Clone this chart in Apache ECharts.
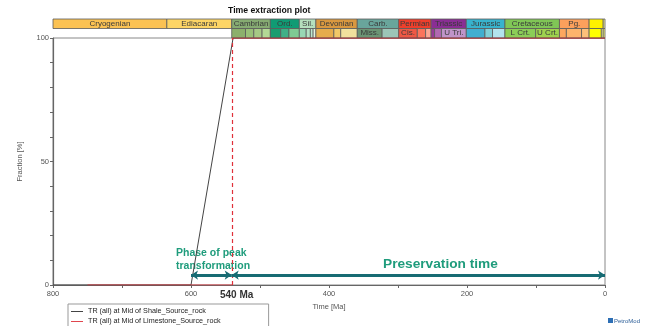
<!DOCTYPE html>
<html>
<head>
<meta charset="utf-8">
<script src="https://cdn.jsdelivr.net/npm/echarts@6/dist/echarts.min.js"></script>
<style>
  html, body { margin: 0; padding: 0; background: #fff; }
  #chart { width: 646px; height: 326px; }
</style>
</head>
<body>
<div id="chart"></div>
<script>
// geologic periods: [label, start Ma, end Ma, colour]
const periods = [
  ['Cryogenian', 800, 635, '#fbc253'],
  ['Ediacaran', 635, 541, '#fdd565'],
  ['Cambrian', 541, 485, '#86ab72'],
  ['Ord.', 485, 443, '#0f9b74'],
  ['Sil.', 443, 419, '#b5e0bd'],
  ['Devonian', 419, 359, '#d99840'],
  ['Carb.', 359, 299, '#69a59b'],
  ['Permian', 299, 252, '#ef3f2c'],
  ['Triassic', 252, 201, '#8a2e94'],
  ['Jurassic', 201, 145, '#38b3cd'],
  ['Cretaceous', 145, 66, '#80c656'],
  ['Pg.', 66, 23, '#fca05c'],
  ['', 23, 2.6, '#fff200'],
  ['', 2.6, 0, '#f7f39a'],
];

// epochs (second row)
const epochs = [
  ['', 541, 521, '#8cb06c'], ['', 521, 509, '#99c078'], ['', 509, 497, '#a6c985'], ['', 497, 485, '#b3d895'],
  ['', 485, 470, '#1a9d6f'], ['', 470, 458, '#41b087'], ['', 458, 443, '#7fca93'],
  ['', 443, 433, '#99d7b3'], ['', 433, 427, '#b3e1c2'], ['', 427, 423, '#bfe6cf'], ['', 423, 419, '#e6f5e1'],
  ['', 419, 393, '#e5ac4d'], ['', 393, 383, '#f1c868'], ['', 383, 359, '#f1e19d'],
  ['Miss.', 359, 323, '#6c9474'], ['', 323, 299, '#9cc5b7'],
  ['Cis.', 299, 272, '#ef5845'], ['', 272, 260, '#fb745c'], ['', 260, 252, '#fba794'],
  ['', 252, 247, '#983999'], ['', 247, 237, '#b168b1'], ['U Tri.', 237, 201, '#c094c9'],
  ['', 201, 174, '#42aed0'], ['', 174, 163, '#80cfd8'], ['', 163, 145, '#b3e3ee'],
  ['L Crt.', 145, 100.5, '#8ccd57'], ['U Crt.', 100.5, 66, '#9fd24e'],
  ['', 66, 56, '#fda75f'], ['', 56, 34, '#fdb46c'], ['', 34, 23, '#fdc07a'],
  ['', 23, 5.3, '#ffff00'], ['', 5.3, 2.6, '#ffff99'], ['', 2.6, 0, '#f9f97f'],
];

// transformation ratio curves
const shaleAge = [800, 600, 539, 0];
const shaleTR = [0, 0, 100, 100];
const limeAge = [750, 540, 540, 540, 0];
const limeTR = [0, 0, null, 100, 100];

const peakLine = 540;
const peakPhase = [600, 541];
const preservation = [541, 0];
const arrowLevel = 4;

const xTicks = { min: 0, max: 800, step: 100, labelStep: 200 };
const yTicks = { min: 0, max: 100, step: 10, labelStep: 50 };

const labelColor = '#555';
const teal = '#176b73';
const green = '#1f9c7c';

const chart = echarts.init(document.getElementById('chart'));

function scaleRows() {
  const rows = [];
  periods.forEach((p) => rows.push([p[1], p[2], 0, p[0], p[3]]));
  epochs.forEach((p) => rows.push([p[1], p[2], 1, p[0], p[3]]));
  return rows;
}

function renderCell(params, api) {
  const a = api.coord([api.value(0), api.value(2)]);
  const b = api.coord([api.value(1), api.value(2) + 1]);
  return {
    type: 'rect',
    shape: { x: a[0], y: a[1], width: b[0] - a[0], height: b[1] - a[1] },
    style: { fill: api.value(4), stroke: '#5a5a5a', lineWidth: 0.8 },
    textContent: {
      style: { text: api.value(3), fontSize: 8, fill: '#3a3a3a', fontFamily: 'Liberation Sans' },
    },
    textConfig: { position: 'inside' },
  };
}

function zip(xs, ys) {
  return xs.map((x, i) => [x, ys[i]]);
}

const option = {
  animation: false,
  textStyle: { fontFamily: 'Liberation Sans' },
  title: {
    text: 'Time extraction plot',
    left: 223,
    top: 1,
    textStyle: { fontSize: 8.7, fontWeight: 'bold', color: '#111' },
  },
  legend: {
    orient: 'vertical',
    left: 68,
    top: 304,
    height: 40,
    icon: 'rect',
    itemWidth: 12,
    itemHeight: 1,
    itemGap: 1,
    padding: [3, 48, 8, 3],
    borderColor: '#999',
    borderWidth: 1,
    textStyle: { fontSize: 7.2, color: '#222', lineHeight: 9 },
    data: ['TR (all) at Mid of Shale_Source_rock', 'TR (all) at Mid of Limestone_Source_rock'],
  },
  grid: [
    { left: 53, right: 41, top: 38, bottom: 41, show: true, borderColor: '#888', borderWidth: 1 },
    { left: 53, right: 41, top: 19, height: 19 },
  ],
  xAxis: [
    {
      type: 'value',
      inverse: true,
      min: xTicks.min,
      max: xTicks.max,
      interval: xTicks.step,
      name: 'Time [Ma]',
      nameLocation: 'middle',
      nameGap: 15,
      nameTextStyle: { fontSize: 7.5, color: labelColor },
      axisLine: { onZero: false, lineStyle: { color: '#666', width: 1.2 } },
      axisTick: { length: 3, lineStyle: { color: '#666' } },
      axisLabel: {
        fontSize: 7.5,
        color: labelColor,
        margin: 5,
        formatter: (v) => (v % xTicks.labelStep === 0 ? String(v) : ''),
      },
      splitLine: { show: false },
    },
    { type: 'value', gridIndex: 1, inverse: true, min: xTicks.min, max: xTicks.max, show: false },
  ],
  yAxis: [
    {
      type: 'value',
      min: yTicks.min,
      max: yTicks.max,
      interval: yTicks.step,
      name: 'Fraction [%]',
      nameLocation: 'middle',
      nameGap: 29,
      nameTextStyle: { fontSize: 7.5, color: labelColor },
      axisLine: { show: true, onZero: false, lineStyle: { color: '#666', width: 1.2 } },
      axisTick: { show: true, length: 3, lineStyle: { color: '#666' } },
      axisLabel: {
        fontSize: 7.5,
        color: labelColor,
        margin: 4,
        formatter: (v) => (v % yTicks.labelStep === 0 ? String(v) : ''),
      },
      splitLine: { show: false },
    },
    { type: 'value', gridIndex: 1, inverse: true, min: 0, max: 2, show: false },
  ],
  series: [
    {
      type: 'custom',
      xAxisIndex: 1,
      yAxisIndex: 1,
      renderItem: renderCell,
      data: scaleRows(),
      silent: true,
    },
    {
      name: 'TR (all) at Mid of Shale_Source_rock',
      type: 'line',
      data: zip(shaleAge, shaleTR),
      symbol: 'none',
      lineStyle: { color: '#444', width: 1 },
      itemStyle: { color: '#444' },
    },
    {
      name: 'TR (all) at Mid of Limestone_Source_rock',
      type: 'line',
      data: zip(limeAge, limeTR),
      symbol: 'none',
      connectNulls: false,
      lineStyle: { color: '#d8343c', width: 1 },
      itemStyle: { color: '#e0464e' },
      markLine: {
        silent: true,
        symbol: 'none',
        label: { show: false },
        lineStyle: { color: '#e0303a', type: [4, 3], width: 1.2 },
        data: [{ xAxis: peakLine }],
      },
    },
    {
      // phase arrows
      type: 'line',
      data: [],
      markLine: {
        silent: true,
        symbol: ['arrow', 'arrow'],
        symbolSize: [7, 7],
        label: { show: false },
        lineStyle: { color: teal, type: 'solid', width: 3 },
        data: [
          [{ coord: [peakPhase[0], arrowLevel] }, { coord: [peakPhase[1], arrowLevel] }],
          [{ coord: [preservation[0], arrowLevel] }, { coord: [preservation[1], arrowLevel] }],
        ],
      },
    },
  ],
  graphic: [
    {
      type: 'text',
      left: 176,
      top: 247,
      style: {
        text: 'Phase of peak\ntransformation',
        font: 'bold 10.5px "Liberation Sans"',
        fill: green,
        lineHeight: 13,
      },
    },
    {
      type: 'text',
      left: 383,
      top: 257,
      style: { text: 'Preservation time', font: 'bold 13.7px "Liberation Sans"', fill: green },
    },
    {
      type: 'text',
      left: 220,
      top: 290,
      style: { text: '540 Ma', font: 'bold 10px "Liberation Sans"', fill: '#333' },
    },
    {
      type: 'rect',
      left: 608,
      top: 318,
      shape: { width: 5, height: 5 },
      style: { fill: '#2d6fb5' },
    },
    {
      type: 'text',
      left: 614,
      top: 318,
      style: { text: 'PetroMod', font: '6px "Liberation Sans"', fill: '#2d5f99' },
    },
  ],
};

chart.setOption(option);
</script>
</body>
</html>
